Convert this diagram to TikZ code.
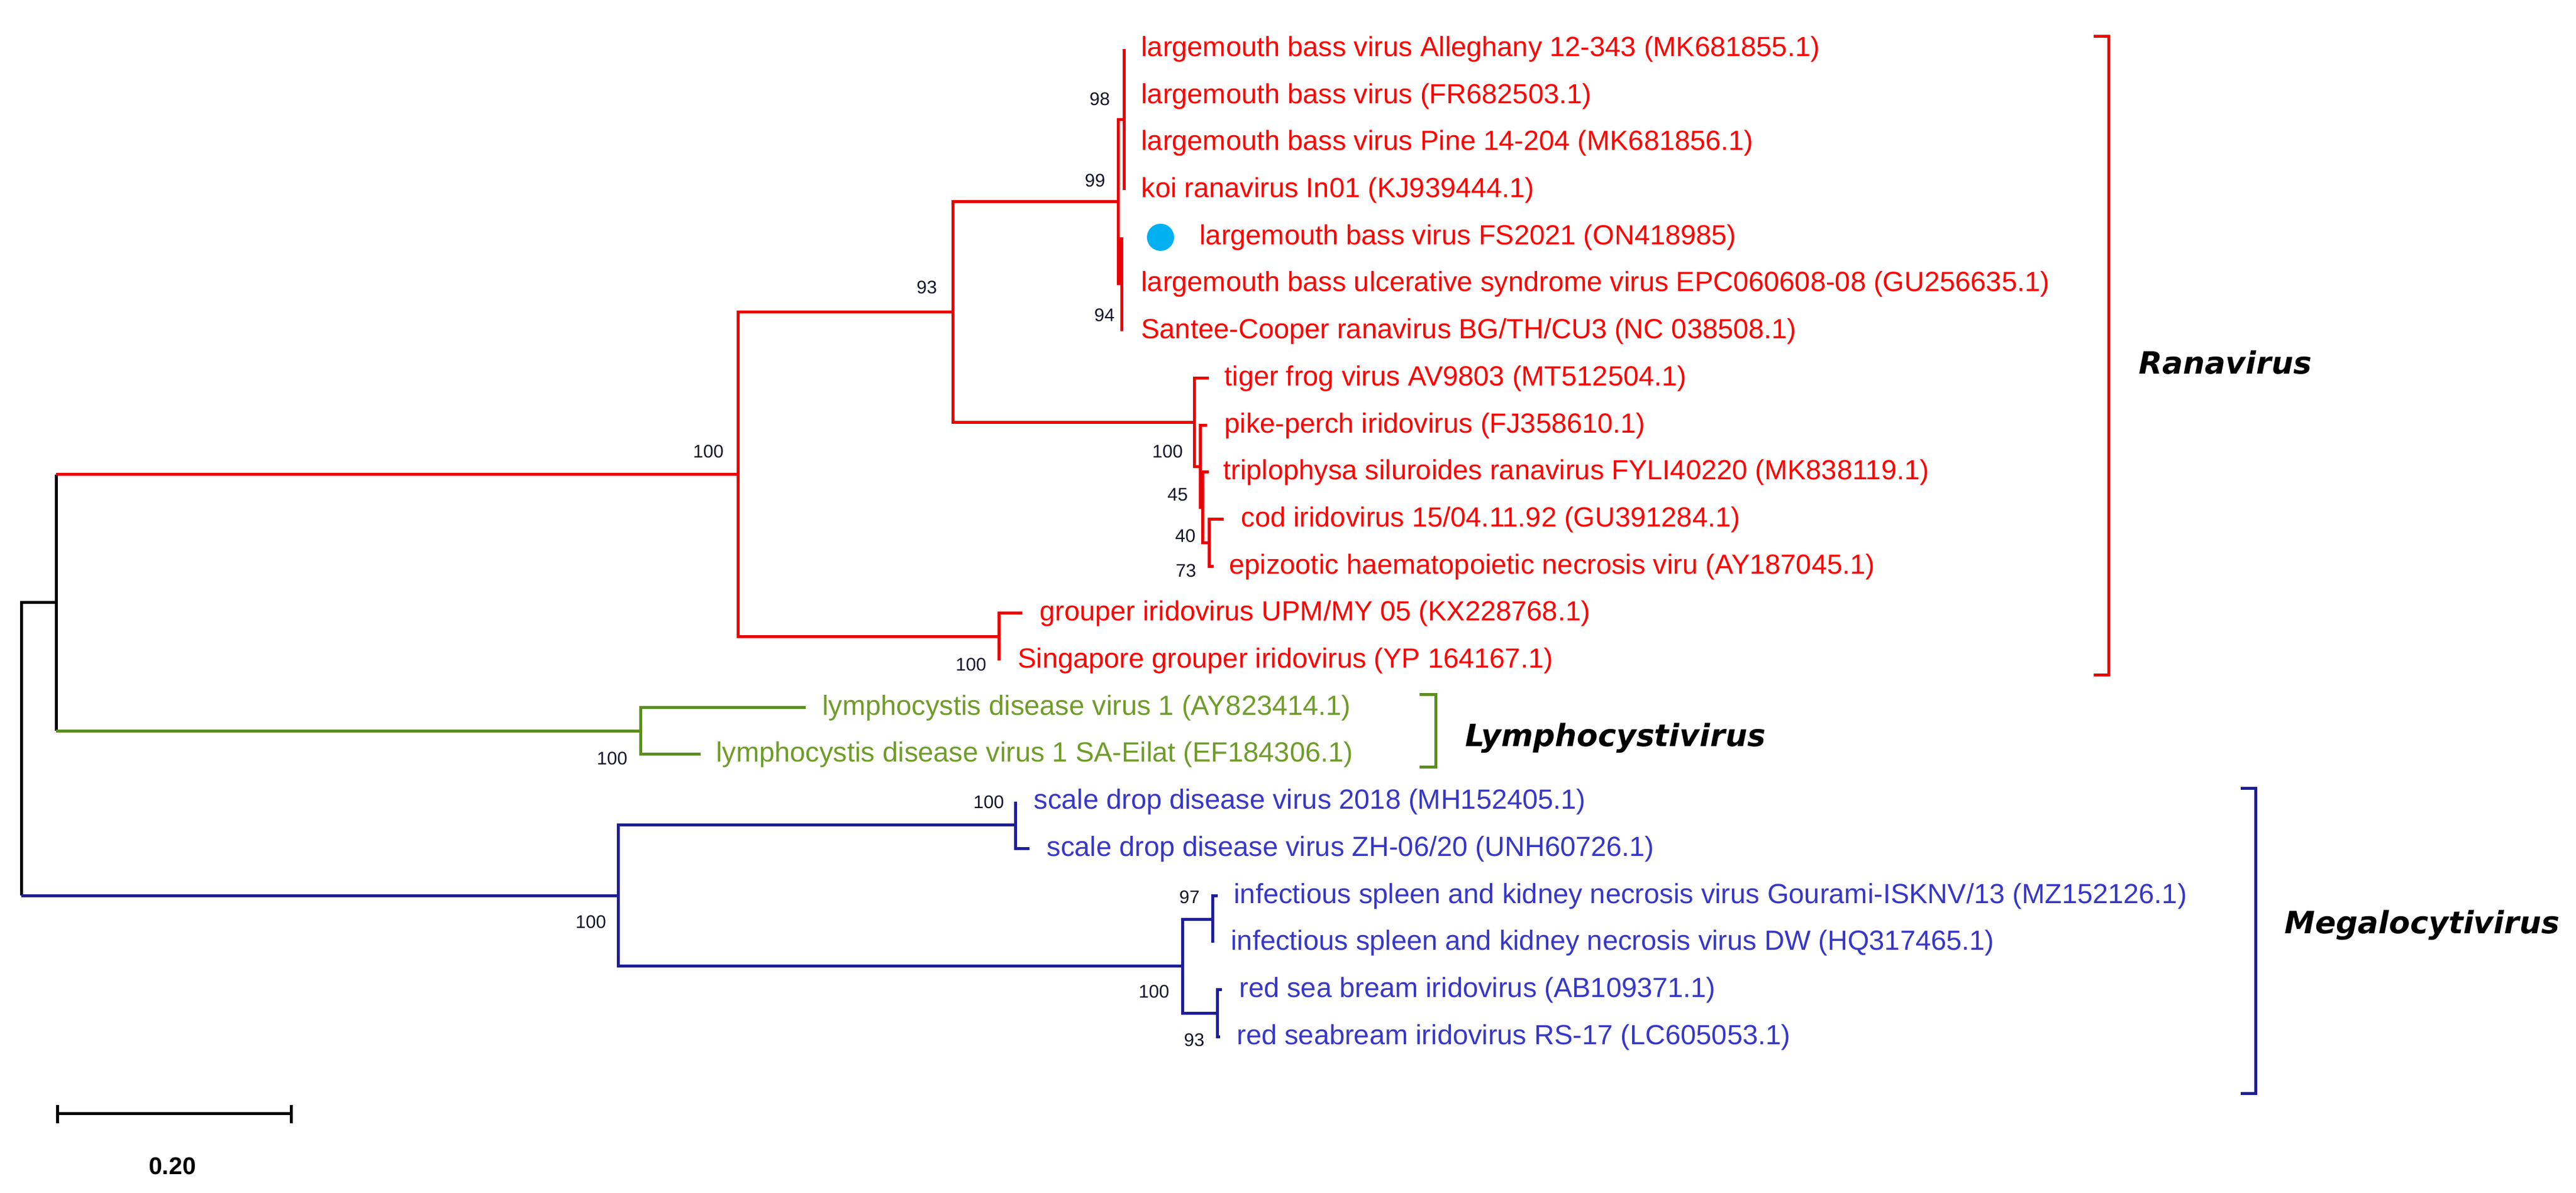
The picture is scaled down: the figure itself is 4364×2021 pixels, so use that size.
\documentclass[tikz,border=0pt]{standalone}
\usepackage{fontspec}
\setmainfont{Liberation Sans}
\newfontfamily\cladefont{DejaVu Sans}
\begin{document}
\begin{tikzpicture}[x=0.2pt,y=-0.2pt,
  line width=1pt,
  lab/.style={anchor=west,inner sep=0pt,text height=0.73em,text depth=0.21em,font=\fontsize{9.4pt}{9.4pt}\selectfont},
  bs/.style={inner sep=0pt,font=\fontsize{6.2pt}{6.2pt}\selectfont,text=bstext},
  clade/.style={anchor=west,inner sep=0pt,font=\cladefont\bfseries\itshape\fontsize{10.4pt}{10.4pt}\selectfont},
  blk/.style={draw=black},
  redl/.style={draw=ranred},
  grnl/.style={draw=lymgreen},
  blul/.style={draw=megblue}]
\definecolor{ranred}{RGB}{235,0,0}
\definecolor{redtext}{RGB}{255,0,0}
\definecolor{lymgreen}{RGB}{92,142,32}
\definecolor{greentext}{RGB}{112,156,42}
\definecolor{megblue}{RGB}{30,30,150}
\definecolor{bluetext}{RGB}{55,55,200}
\definecolor{dotblue}{RGB}{0,176,240}
\definecolor{bstext}{RGB}{20,20,40}
\useasboundingbox (0,0) rectangle (4364,2021);
% internal nodes
\coordinate (root) at (36,1269);
\coordinate (R1) at (95,1021);
\coordinate (Ran) at (1250,804);
\coordinate (N93) at (1614,529);
\coordinate (N99) at (1894,342);
\coordinate (N98) at (1904,202.5);
\coordinate (N94) at (1900,481);
\coordinate (N56) at (1895,441.5);
\coordinate (NT) at (2023,716);
\coordinate (N45) at (2033,790.5);
\coordinate (N40) at (2037,860);
\coordinate (N73) at (2048,920);
\coordinate (NG) at (1692,1079);
\coordinate (NL) at (1085,1238.5);
\coordinate (NB) at (1047,1517.5);
\coordinate (NS) at (1720,1398);
\coordinate (NM) at (2003,1637);
\coordinate (NI) at (2054,1557.5);
\coordinate (NR) at (2062,1717);
% tips
\coordinate (t1) at (1904,83);
\coordinate (t2) at (1904,163);
\coordinate (t3) at (1904,242);
\coordinate (t4) at (1904,322);
\coordinate (t5) at (1895,402);
\coordinate (t6) at (1895,481);
\coordinate (t7) at (1900,561);
\coordinate (t8) at (2048,641);
\coordinate (t9) at (2045,721);
\coordinate (t10) at (2048,800);
\coordinate (t11) at (2073,880);
\coordinate (t12) at (2056,960);
\coordinate (t13) at (1732,1039);
\coordinate (t14) at (1692,1119);
\coordinate (t15) at (1365,1199);
\coordinate (t16) at (1187,1278);
\coordinate (t17) at (1720,1358);
\coordinate (t18) at (1744,1438);
\coordinate (t19) at (2063,1518);
\coordinate (t20) at (2054,1597);
\coordinate (t21) at (2070,1677);
\coordinate (t22) at (2067,1757);
% root part (black)
\draw[blk] (R1) -| (root) -- (root |- NB);
\draw[blk] (R1 |- Ran) -- (R1 |- NL);
\draw[redl] (R1 |- Ran) -- (Ran);
\draw[grnl] (R1 |- NL) -- (NL);
\draw[blul] (root |- NB) -- (NB);
% Ranavirus
\draw[redl] (Ran) |- (N93);
\draw[redl] (Ran) |- (NG);
\draw[redl] (N93) |- (N99);
\draw[redl] (N93) |- (NT);
\draw[redl] (N99) |- (N98);
\draw[redl] (N99) |- (N94);
\draw[redl] (N98) -- (t1);
\draw[redl] (N98) -- (t4);
\draw[redl] (N94) -- (N94 |- t5);
\draw[redl] (N94) -- (t7);
\draw[redl] (t5) -- (t6);
\draw[redl] (NT) |- (t8);
\draw[redl] (NT) |- (N45);
\draw[redl] (N45) |- (t9);
\draw[redl] (N45) |- (N40);
\draw[redl] (N40) |- (t10);
\draw[redl] (N40) |- (N73);
\draw[redl] (N73) |- (t11);
\draw[redl] (N73) |- (t12);
\draw[redl] (NG) |- (t13);
\draw[redl] (NG) |- (t14);
% Lymphocystivirus
\draw[grnl] (NL) |- (t15);
\draw[grnl] (NL) |- (t16);
% Megalocytivirus
\draw[blul] (NB) |- (NS);
\draw[blul] (NB) |- (NM);
\draw[blul] (NS) |- (t17);
\draw[blul] (NS) |- (t18);
\draw[blul] (NM) |- (NI);
\draw[blul] (NM) |- (NR);
\draw[blul] (NI) |- (t19);
\draw[blul] (NI) |- (t20);
\draw[blul] (NR) |- (t21);
\draw[blul] (NR) |- (t22);
% labels
\node[lab,text=redtext] (L1) at (1931,83) {largemouth bass virus Alleghany 12-343 (MK681855.1)};
\node[lab,text=redtext] (L2) at (1931,163) {largemouth bass virus (FR682503.1)};
\node[lab,text=redtext] (L3) at (1931,242) {largemouth bass virus Pine 14-204 (MK681856.1)};
\node[lab,text=redtext] (L4) at (1931,322) {koi ranavirus In01 (KJ939444.1)};
\node[circle,fill=dotblue,minimum size=9.2pt,inner sep=0pt] (dot) at (1966,402) {};
\node[lab,text=redtext] (L5) at (2030,402) {largemouth bass virus FS2021 (ON418985)};
\node[lab,text=redtext] (L6) at (1931,481) {largemouth bass ulcerative syndrome virus EPC060608-08 (GU256635.1)};
\node[lab,text=redtext] (L7) at (1931,561) {Santee-Cooper ranavirus BG/TH/CU3 (NC 038508.1)};
\node[lab,text=redtext] (L8) at (2072,641) {tiger frog virus AV9803 (MT512504.1)};
\node[lab,text=redtext] (L9) at (2072,721) {pike-perch iridovirus (FJ358610.1)};
\node[lab,text=redtext] (L10) at (2070,800) {triplophysa siluroides ranavirus FYLI40220 (MK838119.1)};
\node[lab,text=redtext] (L11) at (2100,880) {cod iridovirus 15/04.11.92 (GU391284.1)};
\node[lab,text=redtext] (L12) at (2080,960) {epizootic haematopoietic necrosis viru (AY187045.1)};
\node[lab,text=redtext] (L13) at (1759,1039) {grouper iridovirus UPM/MY 05 (KX228768.1)};
\node[lab,text=redtext] (L14) at (1722,1119) {Singapore grouper iridovirus (YP 164167.1)};
\node[lab,text=greentext] (L15) at (1391,1199) {lymphocystis disease virus 1 (AY823414.1)};
\node[lab,text=greentext] (L16) at (1211,1278) {lymphocystis disease virus 1 SA-Eilat (EF184306.1)};
\node[lab,text=bluetext] (L17) at (1749,1358) {scale drop disease virus 2018 (MH152405.1)};
\node[lab,text=bluetext] (L18) at (1771,1438) {scale drop disease virus ZH-06/20 (UNH60726.1)};
\node[lab,text=bluetext] (L19) at (2088,1518) {infectious spleen and kidney necrosis virus Gourami-ISKNV/13 (MZ152126.1)};
\node[lab,text=bluetext] (L20) at (2083,1597) {infectious spleen and kidney necrosis virus DW (HQ317465.1)};
\node[lab,text=bluetext] (L21) at (2097,1677) {red sea bream iridovirus (AB109371.1)};
\node[lab,text=bluetext] (L22) at (2093,1757) {red seabream iridovirus RS-17 (LC605053.1)};
% bootstrap values
\node[bs] (b98) at (1863,168) {98};
\node[bs] (b99) at (1855,306) {99};
\node[bs] (b94) at (1871,534) {94};
\node[bs] (b93) at (1570,487) {93};
\node[bs] (bRan) at (1200,765) {100};
\node[bs] (bT) at (1978,765) {100};
\node[bs] (b45) at (1995,838) {45};
\node[bs] (b40) at (2008,908) {40};
\node[bs] (b73) at (2009,967) {73};
\node[bs] (bG) at (1645,1126) {100};
\node[bs] (bL) at (1037,1285) {100};
\node[bs] (bS) at (1675,1359) {100};
\node[bs] (bB) at (1001,1562) {100};
\node[bs] (b97) at (2015,1520) {97};
\node[bs] (bM) at (1955,1680) {100};
\node[bs] (b93b) at (2023,1762) {93};
% clade brackets
\draw[redl] (3547,62) -- (3572,62) -- (3572,1144) -- (3547,1144);
\node[clade] (cRan) at (3621,614) {Ranavirus};
\draw[grnl] (2405,1177) -- (2432,1177) -- (2432,1300) -- (2405,1300);
\node[clade] (cLym) at (2480,1250) {Lymphocystivirus};
\draw[blul] (3796,1336) -- (3821,1336) -- (3821,1853) -- (3796,1853);
\node[clade] (cMeg) at (3868,1567) {Megalocytivirus};
% scale bar
\coordinate (sb1) at (97,1887);
\coordinate (sb2) at (493,1887);
\draw[blk] (sb1) -- (sb2);
\draw[blk] (97,1872) -- (97,1903);
\draw[blk] (493,1872) -- (493,1903);
\node[inner sep=0pt,font=\bfseries\fontsize{8.2pt}{8.2pt}\selectfont] (sbl) at (292,1975) {0.20};
\end{tikzpicture}
\end{document}
